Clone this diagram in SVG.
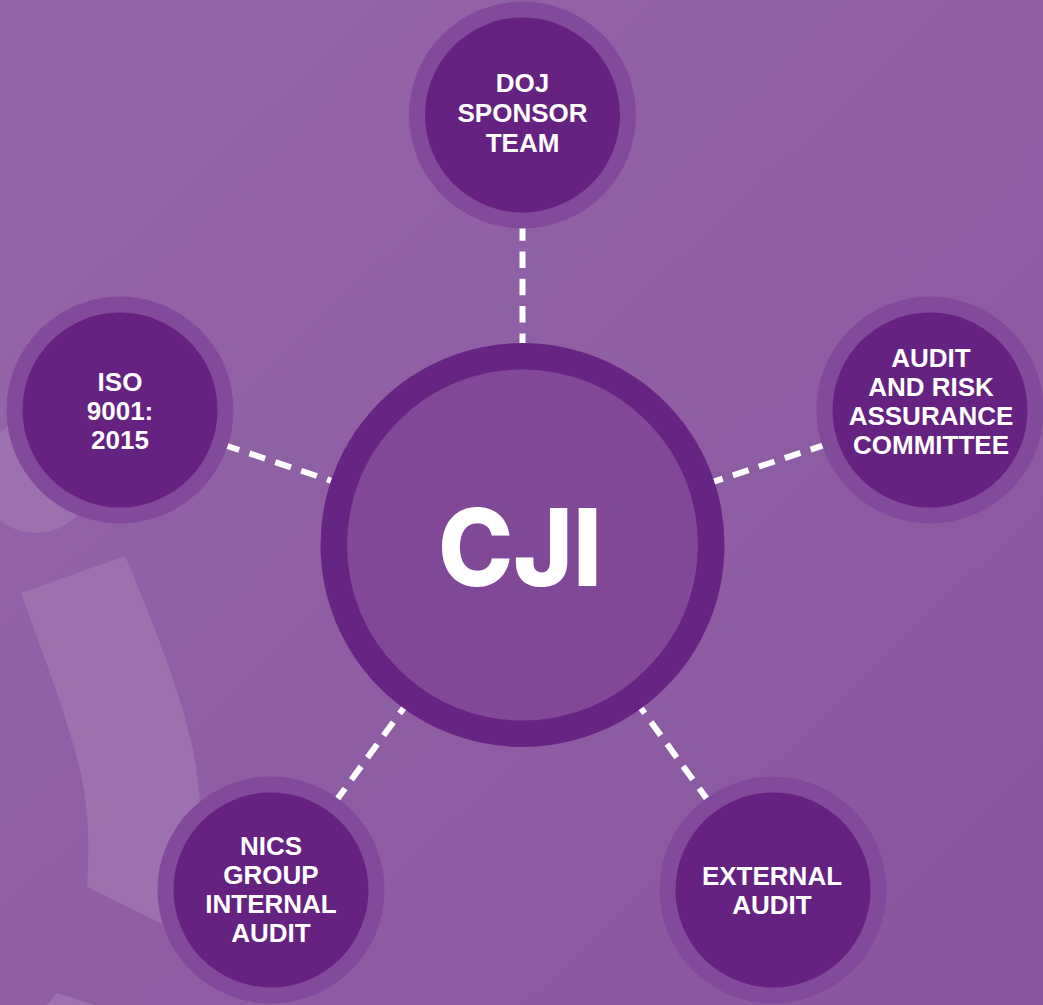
<svg xmlns="http://www.w3.org/2000/svg" width="1043" height="1005" viewBox="0 0 1043 1005">
  <defs>
    <linearGradient id="bg" x1="0" y1="0" x2="1" y2="1">
      <stop offset="0" stop-color="#9466a7"/>
      <stop offset="1" stop-color="#89569f"/>
    </linearGradient>
    <style>
      .ring { fill: #824a9a; }
      .core { fill: #652281; }
      .hub-ring { fill: #662483; }
      .hub-core { fill: #814898; }
      .label { font-family: "Liberation Sans", Arial, sans-serif; font-weight: 700; font-size: 26px; fill: #ffffff; text-anchor: middle; }
      .hub-label { font-family: Inter, "Liberation Sans", sans-serif; font-weight: 800; font-size: 107px; fill: #ffffff; text-anchor: middle; }
      .link { stroke: #ffffff; stroke-width: 6; stroke-dasharray: 16.5 10.8; fill: none; }
      .watermark { fill: #9c72ae; }
    </style>
  </defs>

  <!-- background -->
  <rect width="1043" height="1005" fill="url(#bg)"/>

  <!-- faint "i" watermark -->
  <g id="watermark">
    <circle class="watermark" cx="36" cy="476" r="57"/>
    <path class="watermark" d="M21,593 L125,556 C150,615 180,690 192,745 C199,780 201,810 204,860 L232,958 L87,887 C90,840 88,805 80,770 C66,712 42,652 21,593 Z"/>
    <path class="watermark" d="M47,1005 L57,993 L95,1005 Z"/>
  </g>

  <!-- dashed connectors, drawn from each node centre to the hub -->
  <g id="connectors">
    <line class="link" x1="522.5" y1="115" x2="522.5" y2="545"/>
    <line class="link" x1="930" y1="410" x2="522.5" y2="545"/>
    <line class="link" x1="120" y1="410" x2="522.5" y2="545"/>
    <line class="link" x1="271" y1="890" x2="522.5" y2="545"/>
    <line class="link" x1="773" y1="890" x2="522.5" y2="545"/>
  </g>

  <!-- hub -->
  <g id="hub">
    <circle class="hub-ring" cx="522.5" cy="545" r="202"/>
    <circle class="hub-core" cx="522.5" cy="545" r="175.5"/>
    <text class="hub-label" x="520" y="586" textLength="164" lengthAdjust="spacingAndGlyphs">CJI</text>
  </g>

  <!-- outer nodes -->
  <g id="node-doj">
    <circle class="ring" cx="522.5" cy="115" r="113.5"/>
    <circle class="core" cx="522.5" cy="115" r="97.5"/>
    <text class="label" x="522.5" y="92">DOJ</text>
    <text class="label" x="522.5" y="122">SPONSOR</text>
    <text class="label" x="522.5" y="152">TEAM</text>
  </g>

  <g id="node-arac">
    <circle class="ring" cx="930" cy="410" r="113.5"/>
    <circle class="core" cx="930" cy="410" r="97.5"/>
    <text class="label" x="931" y="367">AUDIT</text>
    <text class="label" x="931" y="396">AND RISK</text>
    <text class="label" x="931" y="425">ASSURANCE</text>
    <text class="label" x="931" y="454">COMMITTEE</text>
  </g>

  <g id="node-iso">
    <circle class="ring" cx="120" cy="410" r="113.5"/>
    <circle class="core" cx="120" cy="410" r="97.5"/>
    <text class="label" x="120" y="391">ISO</text>
    <text class="label" x="120" y="420">9001:</text>
    <text class="label" x="120" y="449">2015</text>
  </g>

  <g id="node-nics">
    <circle class="ring" cx="271" cy="890" r="113.5"/>
    <circle class="core" cx="271" cy="890" r="97.5"/>
    <text class="label" x="271" y="855">NICS</text>
    <text class="label" x="271" y="884">GROUP</text>
    <text class="label" x="271" y="913">INTERNAL</text>
    <text class="label" x="271" y="942">AUDIT</text>
  </g>

  <g id="node-external">
    <circle class="ring" cx="773" cy="890" r="113.5"/>
    <circle class="core" cx="773" cy="890" r="97.5"/>
    <text class="label" x="772" y="885">EXTERNAL</text>
    <text class="label" x="772" y="914">AUDIT</text>
  </g>
</svg>
